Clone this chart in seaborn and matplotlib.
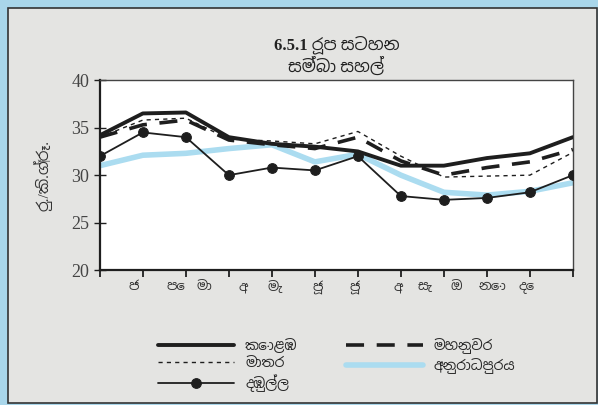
import matplotlib
matplotlib.use("Agg")
import matplotlib.pyplot as plt
from matplotlib import font_manager
from matplotlib.patches import Rectangle
import pandas as pd
import seaborn as sns

title = "6.5.1 රූප සටහන\nසම්බා සහල්"
y_label = "රු./කි.ග්‍රෑ."
months = ["ජ", "පෙ", "මා", "අ", "මැ", "ජූ", "ජූ", "අ", "සැ", "ඔ", "නො", "දෙ"]

colombo = [34.2, 36.5, 36.6, 34.0, 33.3, 33.0, 32.5, 31.0, 31.0, 31.8, 32.3, 34.0]
kandy = [34.0, 35.3, 35.8, 33.7, 33.2, 32.8, 34.0, 31.5, 30.0, 30.8, 31.4, 32.7]
matara = [34.0, 35.8, 36.0, 33.8, 33.6, 33.3, 34.6, 32.0, 29.8, 29.9, 30.0, 32.4]
dambulla = [32.0, 34.5, 34.0, 30.0, 30.8, 30.5, 32.0, 27.8, 27.4, 27.6, 28.2, 30.0]
anuradhapura = [31.0, 32.1, 32.3, 32.8, 33.2, 31.4, 32.2, 30.0, 28.2, 27.9, 28.3, 29.2]

names = ["කොළඹ", "මහනුවර", "මාතර", "දඹුල්ල", "අනුරාධපුරය"]

sns.set_style("ticks")

# serif for digits, then whatever can draw Sinhala
sinhala = [f.name for f in font_manager.fontManager.ttflist
           if "sinhala" in f.name.lower() or "iskoola" in f.name.lower()]
families = ["Liberation Serif"] + sorted(set(sinhala)) + ["DejaVu Sans"]
plt.rcParams["font.family"] = families

dark = "#1e1e1e"
x = list(range(len(months)))
df = pd.DataFrame({"x": x, names[0]: colombo, names[1]: kandy, names[2]: matara,
                   names[3]: dambulla, names[4]: anuradhapura})

fig = plt.figure(figsize=(5.98, 4.05), dpi=100, facecolor="#a9d6ea")
fig.patches.append(Rectangle((0.014, 0.005), 0.985, 0.975, transform=fig.transFigure,
                             facecolor="#e4e4e2", edgecolor="#333333", linewidth=1.2,
                             zorder=-10))
ax = fig.add_axes([0.167, 0.333, 0.791, 0.469])
ax.set_facecolor("white")

sns.lineplot(data=df, x="x", y=names[4], ax=ax, color="#abdcf0", linewidth=4,
             label=names[4], zorder=1)
sns.lineplot(data=df, x="x", y=names[0], ax=ax, color=dark, linewidth=2.8,
             label=names[0], zorder=3)
sns.lineplot(data=df, x="x", y=names[1], ax=ax, color=dark, linewidth=2.6,
             label=names[1], zorder=3)
sns.lineplot(data=df, x="x", y=names[2], ax=ax, color=dark, linewidth=1.0,
             label=names[2], zorder=3)
sns.lineplot(data=df, x="x", y=names[3], ax=ax, color=dark, linewidth=1.3,
             marker="o", markersize=7, markeredgecolor=dark, label=names[3], zorder=4)
ax.lines[2].set_dashes([5, 3.5])
ax.lines[3].set_dashes([3, 3])

ax.set_xlim(0, 11)
ax.set_ylim(20, 40)
ax.set_yticks([20, 25, 30, 35, 40])
ax.set_xticks(x)
ax.set_xticklabels([])
ax.set_xticks([0.79, 1.77, 2.44, 3.33, 4.07, 5.07, 5.93, 6.93, 7.56, 8.3, 9.12, 9.93],
              minor=True)
ax.set_xticklabels(months, minor=True, fontsize=9.5, color="#333333")
ax.tick_params(axis="x", which="minor", length=0, pad=8)
ax.tick_params(axis="x", which="major", length=5, width=1.3, direction="out", color=dark)
ax.tick_params(axis="y", length=8, width=1.0, direction="inout", color=dark,
               labelsize=13, labelcolor="#444444")
for s in ["left", "bottom"]:
    ax.spines[s].set_linewidth(1.6)
    ax.spines[s].set_color(dark)
for s in ["top", "right"]:
    ax.spines[s].set_linewidth(1.0)
    ax.spines[s].set_color("#444444")
ax.set_xlabel("")
ax.set_ylabel(y_label, fontsize=11, color="#333333", labelpad=14)
ax.set_title(title, fontsize=12, fontweight="bold", color="#222222", pad=6,
             linespacing=1.15)

handles, labels = ax.get_legend_handles_labels()
order = [labels.index(n) for n in [names[0], names[2], names[3], names[1], names[4]]]
ax.legend([handles[i] for i in order], [labels[i] for i in order], ncol=2,
          frameon=False, loc="upper center", bbox_to_anchor=(0.5, -0.29),
          fontsize=10, handlelength=5.5, columnspacing=3.5, labelspacing=0.3)

fig.savefig("out.png", dpi=100, facecolor=fig.get_facecolor())
